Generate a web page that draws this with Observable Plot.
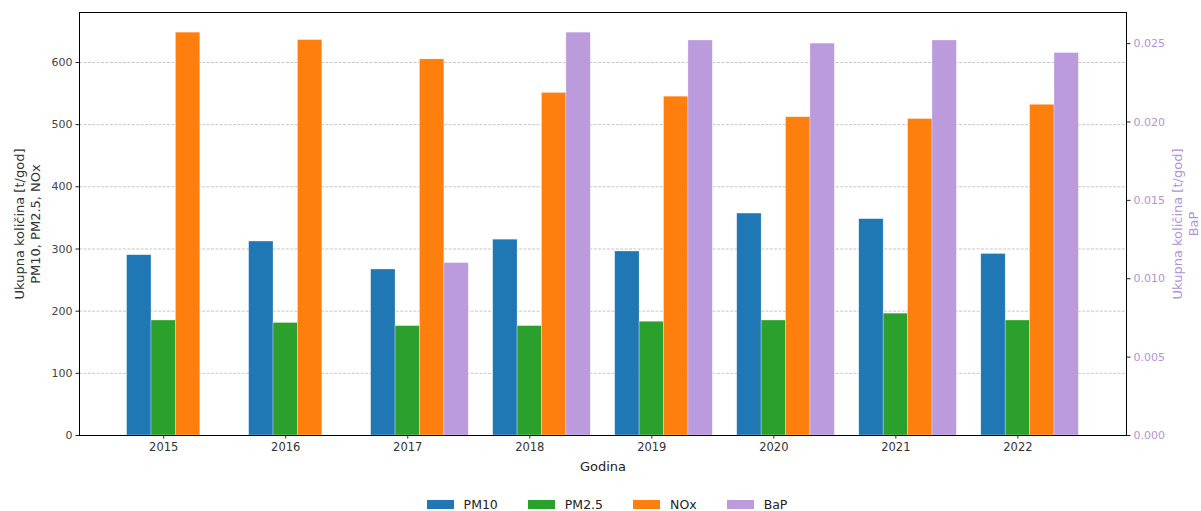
<!DOCTYPE html>
<html>
<head>
<meta charset="utf-8">
<script src="https://cdn.jsdelivr.net/npm/d3@7"></script>
<script src="https://cdn.jsdelivr.net/npm/@observablehq/plot@0.6"></script>
<style>
  body { margin: 0; background: #fff; font-family: "DejaVu Sans", sans-serif; }
  #chart svg { display: block; }
  .legend { display: flex; justify-content: center; align-items: center; padding-left: 13px; padding-top: 15px; height: 14px; font-size: 12.5px; color: #222; }
  .legend .item { display: flex; align-items: center; margin: 0 15px; }
  .legend .sw { width: 27px; height: 9px; margin-right: 10px; }
</style>
</head>
<body>
<div id="chart"></div>
<div class="legend" id="legend"></div>
<script>
// Annual emission totals [t/god]
const years = [2015, 2016, 2017, 2018, 2019, 2020, 2021, 2022];
const pm10  = [290, 312, 267, 315, 296, 357, 348, 292];
const pm25  = [185, 181, 176, 176, 183, 185, 196, 185];
const nox   = [648, 636, 605, 551, 545, 512, 509, 532];
const bap   = [null, null, 0.0110, 0.0257, 0.0252, 0.0250, 0.0252, 0.0244];

const seriesNames  = ["PM10", "PM2.5", "NOx", "BaP"];
const seriesColors = ["#1f77b4", "#2ca02c", "#ff7f0e", "#bb9bdb"];

const leftTicks  = [0, 100, 200, 300, 400, 500, 600];
const rightTicks = [0, 0.005, 0.010, 0.015, 0.020, 0.025];

const xLabel     = "Godina";
const leftLabel  = "Ukupna količina [t/god]\nPM10, PM2.5, NOx";
const rightLabel = "Ukupna količina [t/god]\nBaP";

const bapColor = "#b493db";

// Both axes leave 5% headroom above their tallest bar
const leftMax  = d3.max([...pm10, ...pm25, ...nox]) * 1.05;
const rightMax = d3.max(bap.filter(v => v != null)) * 1.05;
const k = leftMax / rightMax; // maps BaP values onto the left scale

const barW = 0.2;
const rows = [];
years.forEach((year, j) => {
  [pm10, pm25, nox, bap].forEach((arr, i) => {
    const v = arr[j];
    if (v == null) return;
    rows.push({ year, idx: i, series: seriesNames[i], value: v, scaled: i === 3 ? v * k : v });
  });
});

// x extent: bars span year-0.3 .. year+0.5, plus 5% padding on each side
const x0 = d3.min(years) - 1.5 * barW, x1 = d3.max(years) + 2.5 * barW;
const pad = (x1 - x0) * 0.05;

const chart = Plot.plot({
  width: 1201,
  height: 482,
  marginLeft: 79,
  marginRight: 75,
  marginTop: 12,
  marginBottom: 47,
  style: { fontFamily: "DejaVu Sans, sans-serif", fontSize: "11px", color: "#333", background: "#fff" },
  x: { type: "linear", domain: [x0 - pad, x1 + pad] },
  y: { domain: [0, leftMax] },
  color: { domain: seriesNames, range: seriesColors },
  marks: [
    Plot.gridY(leftTicks, { stroke: "#b0b0b0", strokeOpacity: 0.7, strokeDasharray: "3,1.4" }),
    Plot.rectY(rows, {
      x1: d => d.year + (d.idx - 1) * barW - barW / 2,
      x2: d => d.year + (d.idx - 1) * barW + barW / 2,
      y1: 0,
      y2: "scaled",
      fill: "series",
      stroke: "white",
      strokeWidth: 0.6,
      strokeOpacity: 0.5
    }),
    Plot.frame({ stroke: "black", strokeWidth: 1 }),
    Plot.axisX(years, {
      tickFormat: d => String(d), tickSize: 3.5, tickPadding: 3.5,
      fontSize: 11.5, label: null, stroke: "#222", fill: "#333"
    }),
    Plot.axisY(leftTicks, {
      anchor: "left", tickSize: 3.5, tickPadding: 3.5,
      fontSize: 11, label: null, stroke: "#222", fill: "#444"
    }),
    Plot.axisY(rightTicks.map(t => t * k), {
      anchor: "right", tickSize: 3.5, tickPadding: 3.5,
      tickFormat: d => (d / k).toFixed(3),
      fontSize: 11, label: null, stroke: "#222", color: bapColor, fill: bapColor
    }),
    Plot.text([xLabel], { frameAnchor: "bottom", dy: 31, lineAnchor: "middle", fontSize: 13, fill: "#222" }),
    Plot.text([leftLabel], { frameAnchor: "left", dx: -52.5, rotate: -90, textAnchor: "middle", lineAnchor: "middle", fontSize: 13, lineHeight: 1.25, fill: "#333" }),
    Plot.text([rightLabel], { frameAnchor: "right", dx: 58.5, rotate: -90, textAnchor: "middle", lineAnchor: "middle", fontSize: 13, lineHeight: 1.2, fill: bapColor })
  ]
});
document.getElementById("chart").appendChild(chart);

// Legend below the chart
const legend = document.getElementById("legend");
seriesNames.forEach((name, i) => {
  const item = document.createElement("div");
  item.className = "item";
  const sw = document.createElement("span");
  sw.className = "sw";
  sw.style.background = seriesColors[i];
  const label = document.createElement("span");
  label.textContent = name;
  item.appendChild(sw);
  item.appendChild(label);
  legend.appendChild(item);
});
</script>
</body>
</html>
